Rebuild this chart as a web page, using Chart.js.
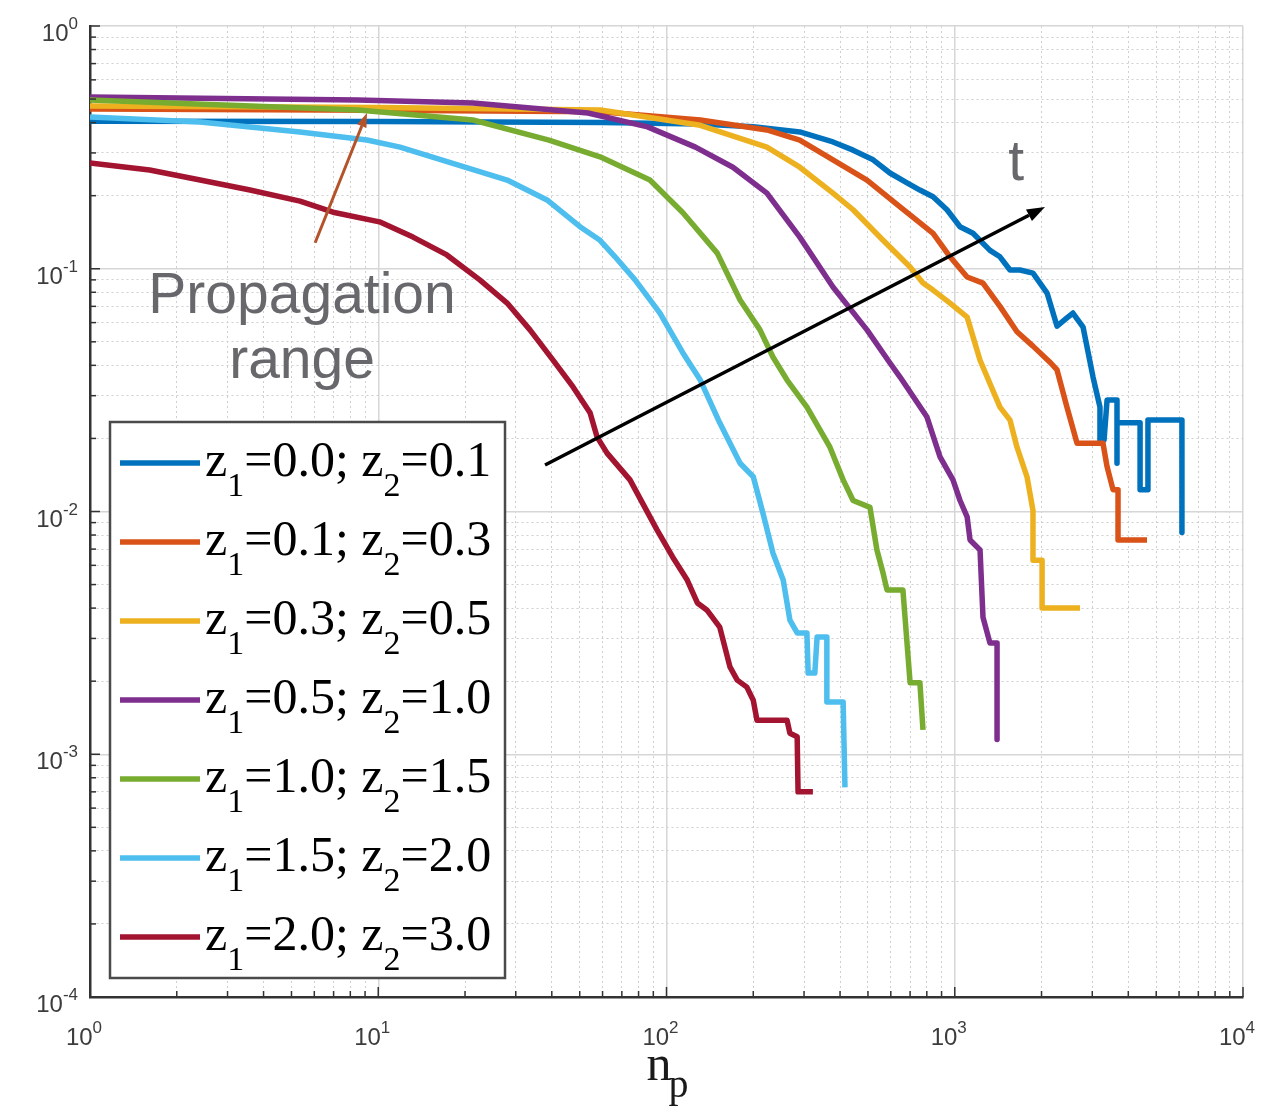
<!DOCTYPE html>
<html>
<head>
<meta charset="utf-8">
<script src="https://cdn.jsdelivr.net/npm/chart.js@4.4.1/dist/chart.umd.min.js"></script>
<style>
  html, body { margin: 0; padding: 0; background: #fff; }
  #wrap { position: relative; width: 1288px; height: 1111px; }
</style>
</head>
<body>
<div id="wrap"><canvas id="ccdfChart"></canvas></div>
<script>
// n_p values (x) and probabilities (y), one pair per curve
const npA = [1, 10, 60, 130, 200, 290, 378, 444, 521, 596, 683, 757, 841, 940, 1043, 1157, 1325, 1435, 1555, 1684, 1868, 2091, 2264, 2420, 2570, 2787, 3018, 3190, 3190, 3296, 3376, 3655, 3655, 3655, 4395, 4395, 4680, 4680, 6140, 6140];
const pA  = [0.405, 0.404, 0.40, 0.395, 0.385, 0.366, 0.333, 0.308, 0.281, 0.248, 0.226, 0.211, 0.198, 0.175, 0.149, 0.140, 0.119, 0.112, 0.0988, 0.0988, 0.096, 0.0794, 0.058, 0.062, 0.0657, 0.0575, 0.0358, 0.0269, 0.0197, 0.0197, 0.0288, 0.0288, 0.0158, 0.0232, 0.0232, 0.0123, 0.0123, 0.0238, 0.0238, 0.0082];

const npB = [1, 10, 59, 131, 223, 290, 378, 496, 646, 841, 963, 1104, 1253, 1435, 1644, 1868, 2153, 2264, 2451, 2656, 3268, 3376, 3540, 3685, 3685, 4645];
const pB  = [0.455, 0.45, 0.443, 0.41, 0.373, 0.339, 0.281, 0.232, 0.18, 0.14, 0.112, 0.0925, 0.0873, 0.070, 0.055, 0.048, 0.0409, 0.0383, 0.0269, 0.0191, 0.0191, 0.0153, 0.0123, 0.0123, 0.00763, 0.00763];

const npC = [1, 10, 59, 131, 223, 290, 378, 444, 564, 700, 776, 841, 963, 1104, 1224, 1435, 1555, 1644, 1781, 1868, 1868, 2009, 2009, 2721];
const pC  = [0.468, 0.462, 0.451, 0.39, 0.317, 0.262, 0.205, 0.175, 0.131, 0.1017, 0.0873, 0.0817, 0.0722, 0.0632, 0.042, 0.0269, 0.0238, 0.0184, 0.0139, 0.0101, 0.0063, 0.0063, 0.0040, 0.0040];

const npD = [1, 8.5, 21.3, 53.4, 86, 126, 170, 223, 290, 378, 496, 596, 646, 801, 889, 986, 1043, 1104, 1130, 1224, 1253, 1325, 1402, 1402];
const pD  = [0.51, 0.496, 0.482, 0.438, 0.384, 0.317, 0.262, 0.205, 0.135, 0.0841, 0.056, 0.0409, 0.0358, 0.0245, 0.0168, 0.0135, 0.0111, 0.0095, 0.00763, 0.00694, 0.00367, 0.00287, 0.00287, 0.00115];

const npE = [1, 8.5, 21.3, 39.1, 58.8, 87.6, 114, 150, 180, 211, 234, 262, 307, 369, 410, 444, 508, 537, 564, 582, 661, 683, 700, 757, 776];
const pE  = [0.496, 0.451, 0.41, 0.339, 0.289, 0.232, 0.170, 0.116, 0.0743, 0.056, 0.0433, 0.0348, 0.0269, 0.0184, 0.0135, 0.0111, 0.0104, 0.00694, 0.00558, 0.00475, 0.00475, 0.00287, 0.00197, 0.00197, 0.00126];

const npF = [1, 2.41, 5.35, 9.14, 11.9, 28.0, 38.5, 50.1, 58.8, 66.3, 77.8, 94.9, 114, 131, 153, 180, 200, 216, 234, 254, 268, 284, 307, 310, 327, 333, 360, 360, 410, 416];
const pF  = [0.422, 0.402, 0.366, 0.339, 0.317, 0.232, 0.192, 0.149, 0.131, 0.112, 0.090, 0.0657, 0.045, 0.0348, 0.0232, 0.0158, 0.0139, 0.00986, 0.00675, 0.00522, 0.00357, 0.00316, 0.00316, 0.00216, 0.00216, 0.00304, 0.00304, 0.00164, 0.00164, 0.00073];

const npG = [1, 1.61, 2.41, 3.59, 5.35, 6.97, 10.1, 13.2, 17.3, 22.5, 28, 33.6, 40.4, 47.4, 54.3, 57.4, 62.2, 74.7, 92.7, 105, 118, 128, 138, 153, 166, 176, 190, 200, 206, 262, 268, 284, 286, 322];
const pG  = [0.273, 0.255, 0.232, 0.211, 0.190, 0.171, 0.156, 0.135, 0.114, 0.090, 0.0722, 0.056, 0.042, 0.0326, 0.0255, 0.0203, 0.0174, 0.0135, 0.0084, 0.0065, 0.00522, 0.0042, 0.00393, 0.00334, 0.00229, 0.00202, 0.00189, 0.00167, 0.00138, 0.00138, 0.00122, 0.00118, 0.0007, 0.0007];

const z1Vals = ["0.0", "0.1", "0.3", "0.5", "1.0", "1.5", "2.0"];
const z2Vals = ["0.1", "0.3", "0.5", "1.0", "1.5", "2.0", "3.0"];
const xDecades = [0, 1, 2, 3, 4];
const yDecades = [0, -1, -2, -3, -4];

const npSeries = [npA, npB, npC, npD, npE, npF, npG];
const pSeries = [pA, pB, pC, pD, pE, pF, pG];
const lineColors = ["#0072BD", "#D95319", "#EDB120", "#7E2F8E", "#77AC30", "#4DBEEE", "#A2142F"];

const sans = '"Liberation Sans", Arial, sans-serif';
const serif = '"Liberation Serif", "Times New Roman", serif';

const isDecade = (t) => !!t && Math.abs(Math.log10(t.value) - Math.round(Math.log10(t.value))) < 1e-9;

// all 1..9 x 10^k ticks so we get MATLAB style minor grid
function logTicks(decades) {
  const lo = Math.min(...decades), hi = Math.max(...decades);
  const out = [];
  for (let k = lo; k < hi; k++) {
    for (let m = 1; m <= 9; m++) out.push({ value: +(m * Math.pow(10, k)).toPrecision(6) });
  }
  out.push({ value: Math.pow(10, hi) });
  return out;
}

const datasets = npSeries.map((xs, i) => ({
  label: "z1=" + z1Vals[i] + "; z2=" + z2Vals[i],
  data: xs.map((x, j) => ({ x: x, y: pSeries[i][j] })),
  showLine: true,
  borderColor: lineColors[i],
  backgroundColor: lineColors[i],
  borderWidth: 5.5,
  pointRadius: 0,
  tension: 0,
  borderJoinStyle: "round",
  order: npSeries.length - i // later curves on top, like matlab
}));

function arrow(ctx, x1, y1, x2, y2, color, width, headLen, headW) {
  const ang = Math.atan2(y2 - y1, x2 - x1);
  const bx = x2 - headLen * Math.cos(ang), by = y2 - headLen * Math.sin(ang);
  ctx.save();
  ctx.strokeStyle = color;
  ctx.fillStyle = color;
  ctx.lineWidth = width;
  ctx.beginPath();
  ctx.moveTo(x1, y1);
  ctx.lineTo(bx, by);
  ctx.stroke();
  ctx.beginPath();
  ctx.moveTo(x2, y2);
  ctx.lineTo(bx + headW / 2 * Math.sin(ang), by - headW / 2 * Math.cos(ang));
  ctx.lineTo(bx - headW / 2 * Math.sin(ang), by + headW / 2 * Math.cos(ang));
  ctx.closePath();
  ctx.fill();
  ctx.restore();
}

// draws "10" with a raised exponent; right = right edge of whole label
function drawPower(ctx, exp, right, baseY) {
  ctx.font = "24px " + sans;
  const wb = ctx.measureText("10").width;
  ctx.font = "17px " + sans;
  const we = ctx.measureText(exp).width;
  ctx.fillStyle = "#3c3c3c";
  ctx.textAlign = "left";
  ctx.textBaseline = "alphabetic";
  ctx.font = "24px " + sans;
  ctx.fillText("10", right - we - wb, baseY);
  ctx.font = "17px " + sans;
  ctx.fillText(exp, right - we, baseY - 12);
  return wb + we;
}

const overlay = {
  id: "overlay",
  afterDraw(chart) {
    const ctx = chart.ctx;
    const xs = chart.scales.x, ys = chart.scales.y;
    const area = chart.chartArea;
    ctx.save();

    // inward tick marks on left and bottom axis
    ctx.strokeStyle = "#333";
    ctx.lineWidth = 1.5;
    ys.ticks.forEach(t => {
      const py = ys.getPixelForValue(t.value);
      const len = isDecade(t) ? 10 : 6;
      ctx.beginPath(); ctx.moveTo(area.left, py); ctx.lineTo(area.left + len, py); ctx.stroke();
    });
    xs.ticks.forEach(t => {
      const px = xs.getPixelForValue(t.value);
      const len = isDecade(t) ? 10 : 6;
      ctx.beginPath(); ctx.moveTo(px, area.bottom); ctx.lineTo(px, area.bottom - len); ctx.stroke();
    });

    // tick labels
    yDecades.forEach(k => {
      const py = ys.getPixelForValue(Math.pow(10, k));
      drawPower(ctx, String(k), 78, py + 15);
    });
    xDecades.forEach(k => {
      const px = xs.getPixelForValue(Math.pow(10, k));
      ctx.font = "24px " + sans;
      const wb = ctx.measureText("10").width;
      ctx.font = "17px " + sans;
      const we = ctx.measureText(String(k)).width;
      drawPower(ctx, String(k), px - 6 + (wb + we) / 2, area.bottom + 48);
    });

    // x axis title n_p
    ctx.fillStyle = "#1a1a1a";
    ctx.textAlign = "left";
    ctx.font = "50px " + serif;
    const nx = xs.getPixelForValue(100) - 20;
    ctx.fillText("n", nx, area.bottom + 83);
    const nw = ctx.measureText("n").width;
    ctx.font = "40px " + serif;
    ctx.fillText("p", nx + nw - 3, area.bottom + 100);

    // annotations
    ctx.fillStyle = "#68686c";
    ctx.textAlign = "center";
    ctx.font = "57px " + sans;
    ctx.fillText("Propagation", xs.getPixelForValue(5.44), ys.getPixelForValue(0.0657));
    ctx.fillText("range", xs.getPixelForValue(5.44), ys.getPixelForValue(0.0355));
    ctx.fillText("t", xs.getPixelForValue(1632), ys.getPixelForValue(0.232));

    arrow(ctx, xs.getPixelForValue(6.04), ys.getPixelForValue(0.128),
      xs.getPixelForValue(9.14), ys.getPixelForValue(0.438), "#B4522A", 3, 14, 10);
    arrow(ctx, xs.getPixelForValue(37.9), ys.getPixelForValue(0.01555),
      xs.getPixelForValue(2056), ys.getPixelForValue(0.1796), "#000", 3.5, 18, 13);

    // legend box
    const lx = 110, ly = 422, lw = 395, lh = 556;
    ctx.fillStyle = "#fff";
    ctx.fillRect(lx, ly, lw, lh);
    ctx.strokeStyle = "#4a4a4a";
    ctx.lineWidth = 2.5;
    ctx.strokeRect(lx, ly, lw, lh);
    chart.data.datasets.forEach((ds, i) => {
      const rowY = 463 + i * 79;
      ctx.strokeStyle = ds.borderColor;
      ctx.lineWidth = 5.5;
      ctx.beginPath(); ctx.moveTo(120, rowY); ctx.lineTo(200, rowY); ctx.stroke();
      const parts = [["z", 0], ["1", 1], ["=" + z1Vals[i] + "; z", 0], ["2", 1], ["=" + z2Vals[i], 0]];
      let cx = 205;
      ctx.fillStyle = "#000";
      ctx.textAlign = "left";
      parts.forEach(([s, sub]) => {
        ctx.font = sub ? "34px " + serif : "50px " + serif;
        ctx.fillText(s, cx, sub ? rowY + 33 : rowY + 13);
        cx += ctx.measureText(s).width;
      });
    });
    ctx.restore();
  }
};

new Chart(document.getElementById("ccdfChart"), {
  type: "scatter",
  data: { datasets: datasets },
  options: {
    responsive: true,
    maintainAspectRatio: false,
    animation: false,
    layout: { padding: { left: 90, top: 26, right: 45, bottom: 114 } },
    plugins: { legend: { display: false }, tooltip: { enabled: false } },
    scales: {
      x: {
        type: "logarithmic",
        min: 1,
        max: 10000,
        afterBuildTicks: s => { s.ticks = logTicks(xDecades); },
        ticks: { display: false },
        grid: {
          drawTicks: false,
          color: c => isDecade(c.tick) ? "#d6d6d6" : "#cfcfcf",
          lineWidth: c => isDecade(c.tick) ? 1.5 : 1
        },
        border: { display: true, color: "#333", width: 2.5, dash: c => (c.tick && !isDecade(c.tick)) ? [2, 3] : [] }
      },
      y: {
        type: "logarithmic",
        min: 1e-4,
        max: 1,
        afterBuildTicks: s => { s.ticks = logTicks(yDecades); },
        ticks: { display: false },
        grid: {
          drawTicks: false,
          color: c => isDecade(c.tick) ? "#d6d6d6" : "#cfcfcf",
          lineWidth: c => isDecade(c.tick) ? 1.5 : 1
        },
        border: { display: true, color: "#333", width: 2.5, dash: c => (c.tick && !isDecade(c.tick)) ? [2, 3] : [] }
      }
    }
  },
  plugins: [overlay]
});
</script>
</body>
</html>
